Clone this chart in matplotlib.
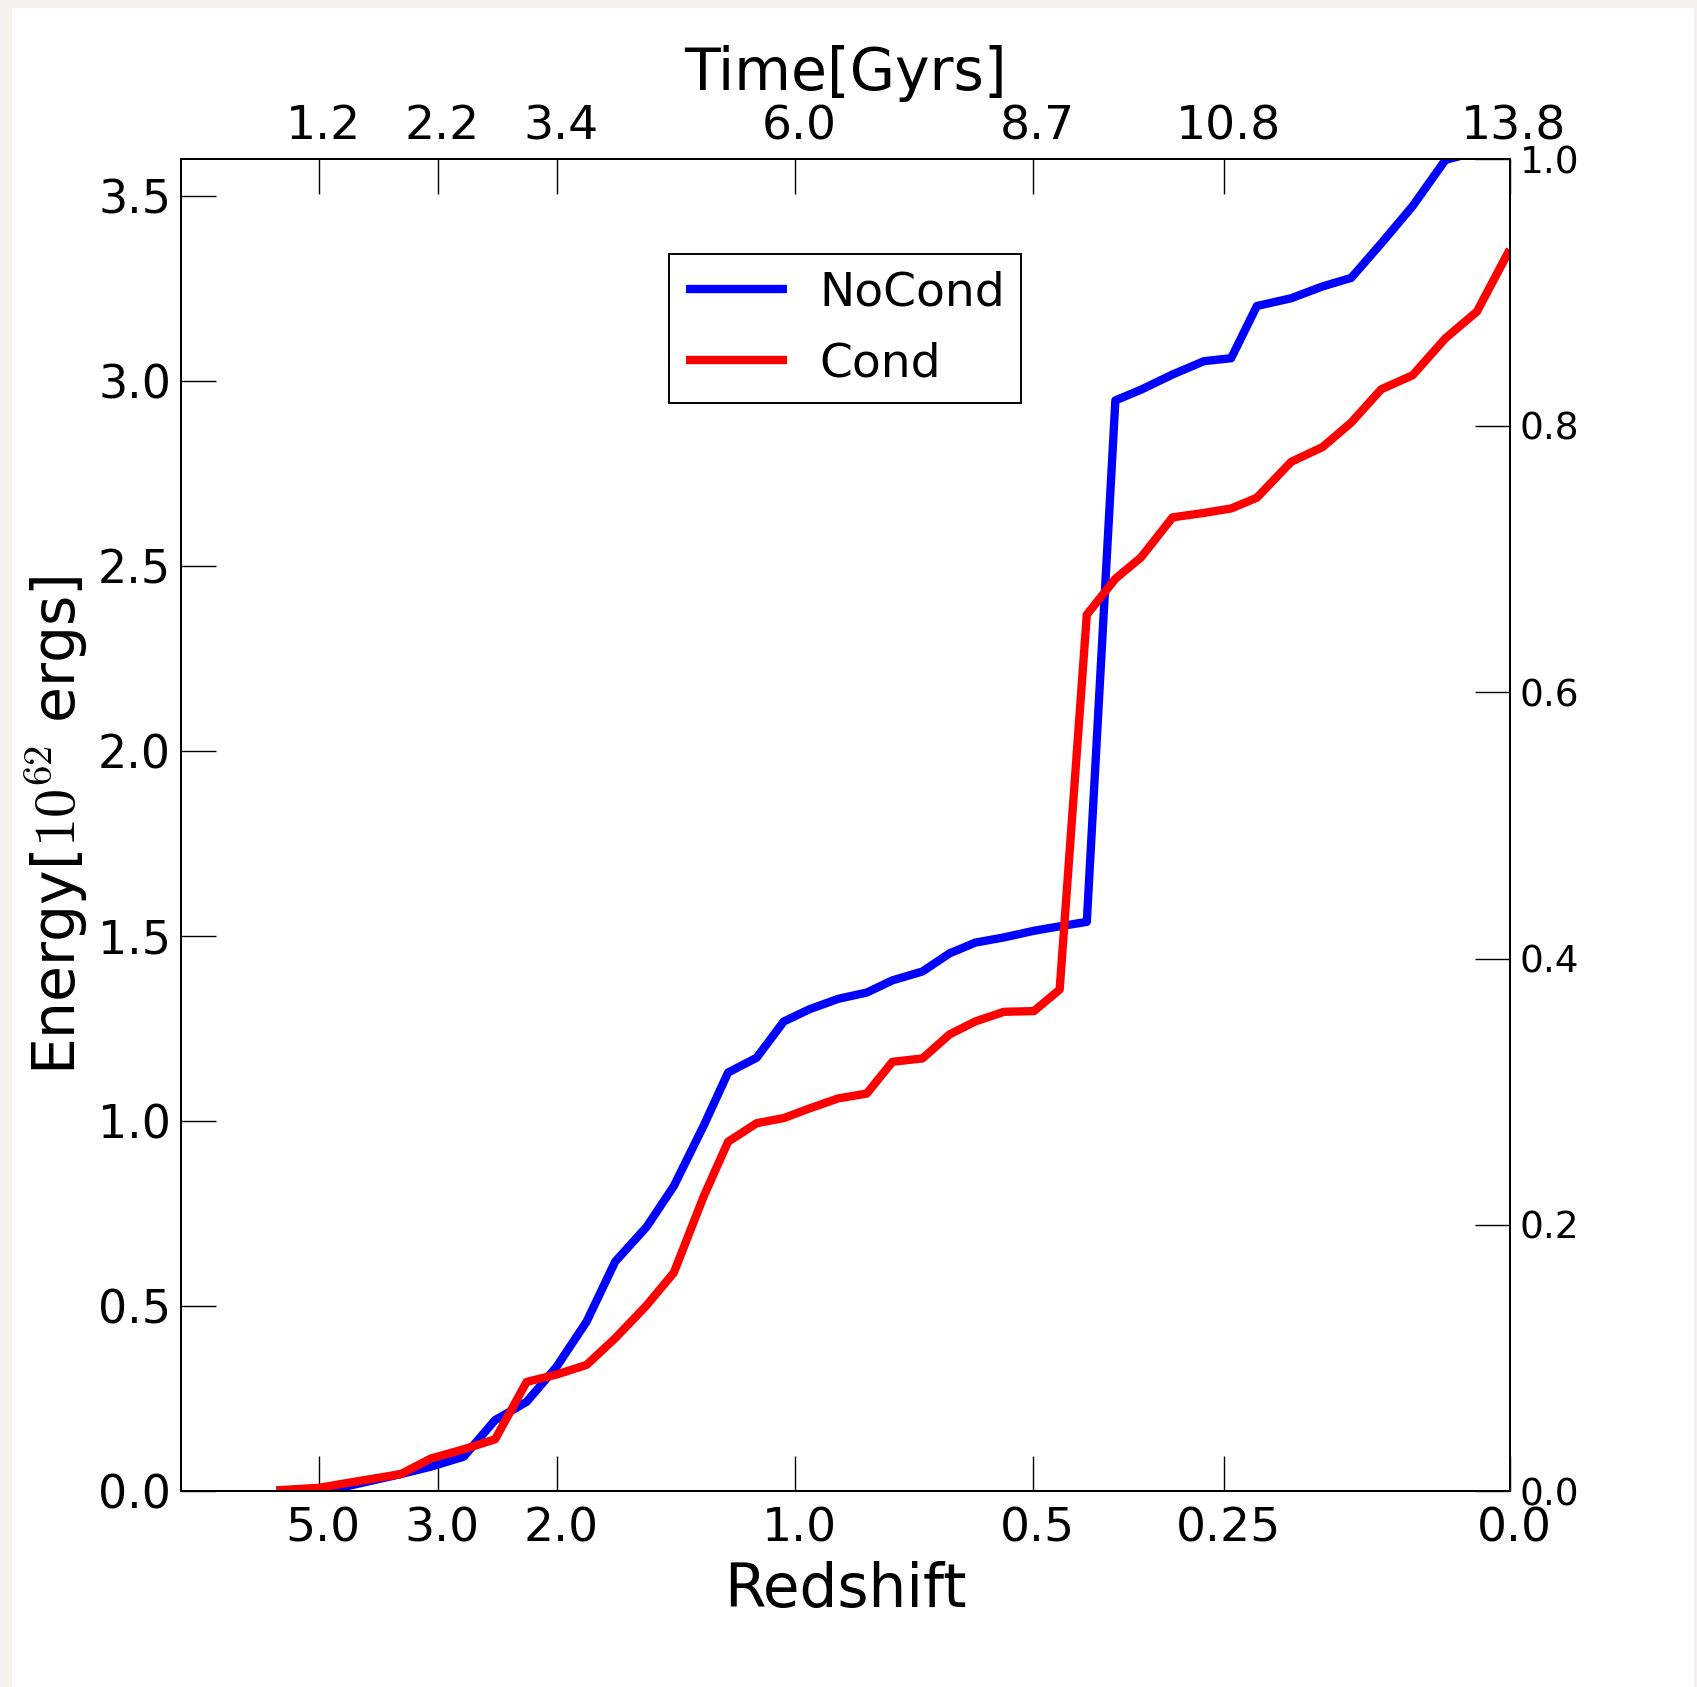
import numpy as np
import matplotlib.pyplot as plt
from matplotlib.patches import Rectangle
from matplotlib.transforms import ScaledTranslation

plt.rcParams['font.family'] = ['DejaVu Sans']
plt.rcParams['mathtext.fontset'] = 'cm'
plt.rcParams['lines.solid_capstyle'] = 'butt'

# --- data ---
# scale factor a = 1/(1+z) of each snapshot
scale_factor = [0.137, 0.167, 0.185, 0.224, 0.245, 0.268, 0.290, 0.312, 0.333, 0.354,
                0.374, 0.396, 0.415, 0.436, 0.453, 0.473, 0.492, 0.510, 0.530, 0.550,
                0.568, 0.589, 0.608, 0.626, 0.646, 0.667, 0.685, 0.704, 0.724, 0.742,
                0.764, 0.786, 0.805, 0.823, 0.847, 0.869, 0.889, 0.910, 0.932, 0.955,
                0.977, 1.000]

# cumulative energy, 1e62 ergs
energy_nocond = [0.003, 0.005, 0.013, 0.047, 0.067, 0.094, 0.193, 0.242, 0.337, 0.459,
                 0.621, 0.715, 0.825, 0.989, 1.132, 1.172, 1.270, 1.303, 1.331, 1.348,
                 1.381, 1.405, 1.454, 1.483, 1.497, 1.515, 1.527, 1.539, 2.948, 2.977,
                 3.018, 3.054, 3.062, 3.203, 3.224, 3.256, 3.279, 3.372, 3.473, 3.598,
                 3.620, 3.720]

energy_cond = [0.003, 0.010, 0.022, 0.047, 0.089, 0.114, 0.141, 0.296, 0.316, 0.342,
               0.414, 0.503, 0.591, 0.798, 0.945, 0.995, 1.009, 1.035, 1.062, 1.075,
               1.161, 1.170, 1.235, 1.270, 1.296, 1.298, 1.356, 2.369, 2.466, 2.524,
               2.632, 2.644, 2.656, 2.685, 2.782, 2.822, 2.888, 2.978, 3.016, 3.116,
               3.188, 3.356]

redshift_ticks = [5.0, 3.0, 2.0, 1.0, 0.5, 0.25, 0.0]
redshift_labels = ['5.0', '3.0', '2.0', '1.0', '0.5', '0.25', '0.0']
time_labels = ['1.2', '2.2', '3.4', '6.0', '8.7', '10.8', '13.8']

# --- figure ---
fig = plt.figure(figsize=(16.97, 16.87), dpi=100)
fig.patch.set_facecolor('#f4f2ec')
fig.add_artist(Rectangle((12 / 1697, 0), 1682 / 1697, 1679 / 1687,
                         transform=fig.transFigure, facecolor='white',
                         edgecolor='none', zorder=-10))

ax = fig.add_axes([0.1065, 0.1159, 0.7832, 0.7898])
ax.plot(scale_factor, energy_nocond, color='blue', lw=6, label='NoCond')
ax.plot(scale_factor, energy_cond, color='red', lw=6, label='Cond')

tick_pos = [1.0 / (1.0 + z) for z in redshift_ticks]

ax.set_xlim(0.07, 1.0)
ax.set_ylim(0, 3.6)
ax.set_xticks(tick_pos)
ax.set_xticklabels(redshift_labels)
ax.set_yticks(np.arange(0, 3.51, 0.5))
ax.tick_params(direction='in', length=25, width=1)
ax.tick_params(axis='x', pad=11, labelsize=34)
ax.tick_params(axis='y', pad=7, labelsize=33)
ax.set_xlabel('Redshift', fontsize=43, labelpad=7)
ax.set_ylabel(r'Energy[$10^{62}$ ergs]', fontsize=42, labelpad=6)

leg = ax.legend(loc='upper center', bbox_to_anchor=(0.5, 0.929), fontsize=34,
                fancybox=False, framealpha=1, edgecolor='black',
                borderpad=0.35, handlelength=2.15, handletextpad=0.68,
                labelspacing=0.55, borderaxespad=0)
leg.get_frame().set_linewidth(1.4)

# top axis: cosmic time at the same redshifts
top = ax.twiny()
top.set_xlim(ax.get_xlim())
top.set_xticks(tick_pos)
top.set_xticklabels(time_labels)
top.tick_params(direction='in', length=25, width=1, labelsize=34, pad=7)
top.set_xlabel('Time[Gyrs]', fontsize=42, labelpad=10)

# right axis, left at its default 0-1 range
right = ax.twinx()
right.set_ylim(0, 1)
right.tick_params(direction='in', length=25, width=1, labelsize=27, pad=7)

for a in (ax, top, right):
    for s in a.spines.values():
        s.set_linewidth(1.4)

# x tick labels sit a touch right of their ticks in the original
shift = ScaledTranslation(3 / 72, 0, fig.dpi_scale_trans)
for lab in ax.get_xticklabels() + top.get_xticklabels():
    lab.set_transform(lab.get_transform() + shift)

fig.savefig('out.png', dpi=100, facecolor=fig.get_facecolor())
